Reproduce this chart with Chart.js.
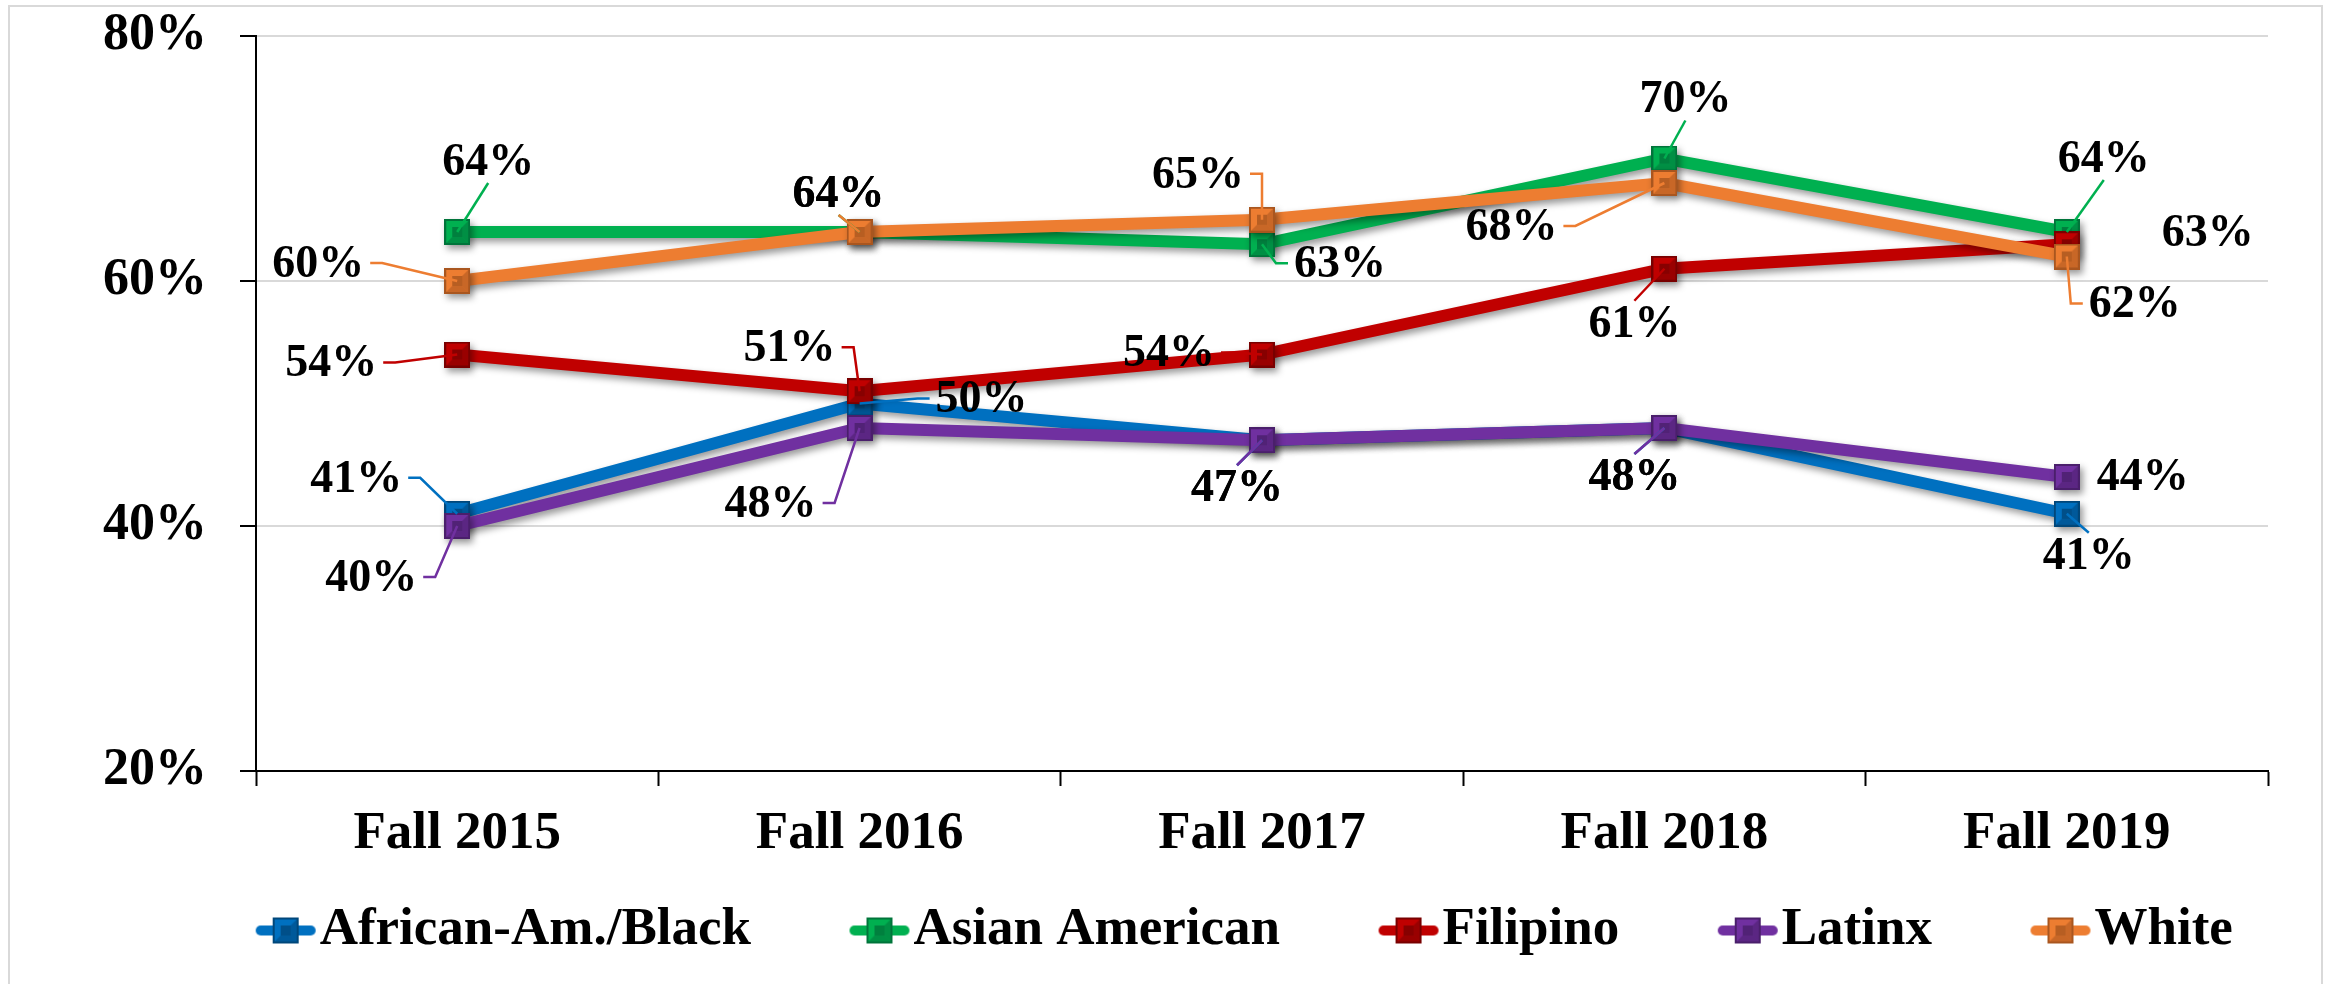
<!DOCTYPE html>
<html>
<head>
<meta charset="utf-8">
<script src="https://cdn.jsdelivr.net/npm/chart.js@4.4.1/dist/chart.umd.min.js"></script>
<style>
html, body { margin: 0; padding: 0; background: #fff; }
#wrap { width: 2333px; height: 984px; position: relative; }
</style>
</head>
<body>
<div id="wrap"><canvas id="rate_chart"></canvas></div>
<script>
const terms = ["Fall 2015", "Fall 2016", "Fall 2017", "Fall 2018", "Fall 2019"];
const group_names = ["African-Am./Black", "Asian American", "Filipino", "Latinx", "White"];
const black_rates = [41, 50, 47, 48, 41];
const asian_rates = [64, 64, 63, 70, 64];
const filipino_rates = [54, 51, 54, 61, 63];
const latinx_rates = [40, 48, 47, 48, 44];
const white_rates = [60, 64, 65, 68, 62];
const y_ticks = [20, 40, 60, 80];

// colours: line, marker edge
const colors = ["#0070C0", "#00B050", "#C00000", "#7030A0", "#ED7D31"];
const dark_colors = ["#00477a", "#00743a", "#780000", "#4a1f6b", "#a9561f"];

// where each value label sits, relative to its point (px)
const label_offsets = [
    [[-101, -36], [122, -5], [-25, 47], [-30, 48], [22, 41]],
    [[31, -71], [-21, -39], [78, 19], [21, -60], [37, -74]],
    [[-126, 8], [-70, -44], [-93, -2], [-30, 54], [141, -12]],
    [[-86, 51], [-89, 75], [-25, 47], [-30, 48], [76, -1]],
    [[-139, -18], [-21, -39], [-64, -46], [-153, 43], [68, 47]]
];
const no_leader = ["2-4"];

const font_name = '"Liberation Serif", "Times New Roman", serif';

function make_marker(color, dark) {
    let size = 26;
    let c = document.createElement("canvas");
    c.width = size;
    c.height = size;
    let g = c.getContext("2d");
    g.fillStyle = dark;
    g.fillRect(0, 0, size, size);
    g.fillStyle = color;
    g.fillRect(2, 2, size - 4, size - 4);
    let a = 2, b = size - 2, i1 = 8, i2 = size - 8;
    // lower / right facets darker
    g.fillStyle = dark;
    g.globalAlpha = 0.55;
    g.beginPath();
    g.moveTo(a, b); g.lineTo(b, b); g.lineTo(i2, i2); g.lineTo(i1, i2); g.closePath();
    g.fill();
    g.beginPath();
    g.moveTo(b, a); g.lineTo(b, b); g.lineTo(i2, i2); g.lineTo(i2, i1); g.closePath();
    g.fill();
    g.globalAlpha = 0.8;
    g.fillRect(i1, i1, i2 - i1, i2 - i1);
    g.globalAlpha = 1;
    return c;
}

// legend box is 120 wide, the picture hangs over its right side up to the text
function make_legend_marker(color, dark) {
    let c = document.createElement("canvas");
    c.width = 169;
    c.height = 30;
    let g = c.getContext("2d");
    g.strokeStyle = color;
    g.lineWidth = 10;
    g.lineCap = "round";
    g.beginPath();
    g.moveTo(112, 15);
    g.lineTo(162, 15);
    g.stroke();
    g.drawImage(make_marker(color, dark), 124, 2);
    return c;
}

const point_markers = colors.map((col, i) => make_marker(col, dark_colors[i]));
const legend_markers = colors.map((col, i) => make_legend_marker(col, dark_colors[i]));

function make_dataset(i, values) {
    return {
        label: group_names[i],
        data: values,
        borderColor: colors[i],
        backgroundColor: colors[i],
        borderWidth: 12,
        pointStyle: point_markers[i],
        pointRadius: 13,
        pointHoverRadius: 13,
        order: 4 - i,
        tension: 0
    };
}

const frame_plugin = {
    id: "frame",
    beforeDraw(chart) {
        let ctx = chart.ctx;
        ctx.save();
        ctx.strokeStyle = "#d9d9d9";
        ctx.lineWidth = 2;
        ctx.strokeRect(9, 6, 2313, 990);
        ctx.restore();
    }
};

// legend sits a little right of the canvas centre
const legend_shift = {
    id: "legend_shift",
    afterLayout(chart) {
        chart.legend.left += 69;
        chart.legend.right += 69;
    }
};

const shadow_plugin = {
    id: "shadow",
    beforeDatasetsDraw(chart) {
        let ctx = chart.ctx;
        ctx.save();
        ctx.shadowColor = "rgba(0, 0, 0, 0.4)";
        ctx.shadowBlur = 7;
        ctx.shadowOffsetX = 3;
        ctx.shadowOffsetY = 4;
    },
    afterDatasetsDraw(chart) {
        chart.ctx.restore();
    }
};

const value_labels = {
    id: "value_labels",
    afterDatasetsDraw(chart) {
        let ctx = chart.ctx;
        ctx.save();
        ctx.font = "bold 46px " + font_name;
        ctx.textAlign = "center";
        ctx.textBaseline = "middle";
        chart.data.datasets.forEach((ds, i) => {
            let meta = chart.getDatasetMeta(i);
            meta.data.forEach((pt, j) => {
                let off = label_offsets[i][j];
                let cx = pt.x + off[0];
                let cy = pt.y + off[1];
                let text = ds.data[j] + "%";
                let w = ctx.measureText(text).width;
                let h = 32;
                let gap = 6;
                let left = cx - w / 2 - gap, right = cx + w / 2 + gap;
                let top = cy - h / 2 - gap, bottom = cy + h / 2 + gap;
                let ax, ay, sx, sy;
                if (pt.x > right || pt.x < left) {
                    ax = pt.x > right ? right : left;
                    ay = cy;
                    sx = ax + (pt.x > right ? 12 : -12);
                    sy = ay;
                } else {
                    ax = cx;
                    ay = pt.y < top ? top : bottom;
                    sx = ax;
                    sy = ay;
                }
                let inside = pt.x > left && pt.x < right && pt.y > top && pt.y < bottom;
                let skip = no_leader.includes(i + "-" + j);
                if (!inside && !skip && Math.hypot(sx - pt.x, sy - pt.y) > 22) {
                    ctx.strokeStyle = colors[i];
                    ctx.lineWidth = 2.5;
                    ctx.beginPath();
                    ctx.moveTo(ax, ay);
                    ctx.lineTo(sx, sy);
                    ctx.lineTo(pt.x, pt.y);
                    ctx.stroke();
                }
                ctx.fillStyle = "#000";
                ctx.fillText(text, cx, cy + 2);
            });
        });
        ctx.restore();
    }
};

const tick_font = { family: font_name, size: 52, weight: "bold" };
const label_font = { family: font_name, size: 53, weight: "bold" };

new Chart(document.getElementById("rate_chart"), {
    type: "line",
    data: {
        labels: terms,
        datasets: [
            make_dataset(0, black_rates),
            make_dataset(1, asian_rates),
            make_dataset(2, filipino_rates),
            make_dataset(3, latinx_rates),
            make_dataset(4, white_rates)
        ]
    },
    options: {
        responsive: true,
        maintainAspectRatio: false,
        animation: false,
        layout: { padding: { left: 0, right: 65, top: 36, bottom: 17 } },
        scales: {
            x: {
                offset: true,
                grid: { offset: true, drawOnChartArea: false, tickLength: 15, tickColor: "#000", tickWidth: 2 },
                border: { color: "#000", width: 2 },
                ticks: { font: label_font, color: "#000", padding: 17 },
                afterFit: (s) => { s.height = 117; }
            },
            y: {
                min: 20,
                max: 80,
                afterBuildTicks: (s) => { s.ticks = y_ticks.map((v) => ({ value: v })); },
                grid: { color: "#d9d9d9", lineWidth: 2, tickLength: 16, tickColor: "#000", tickWidth: 2 },
                border: { color: "#000", width: 2 },
                ticks: { font: tick_font, color: "#000", padding: 33, callback: (v) => v + "%" },
                afterFit: (s) => {
                    s.width = 256;
                    s.paddingTop = 0;
                    s.paddingBottom = 0;
                }
            }
        },
        plugins: {
            tooltip: { enabled: false },
            legend: {
                position: "bottom",
                labels: {
                    usePointStyle: true,
                    pointStyleWidth: 120,
                    padding: 16,
                    color: "#000",
                    font: label_font,
                    generateLabels: (chart) => chart.data.datasets.map((ds, i) => ({
                        text: ds.label,
                        pointStyle: legend_markers[i],
                        fillStyle: colors[i],
                        strokeStyle: colors[i],
                        lineWidth: 0,
                        fontColor: "#000",
                        hidden: !chart.isDatasetVisible(i),
                        datasetIndex: i
                    }))
                }
            }
        }
    },
    plugins: [frame_plugin, legend_shift, shadow_plugin, value_labels]
});
</script>
</body>
</html>
